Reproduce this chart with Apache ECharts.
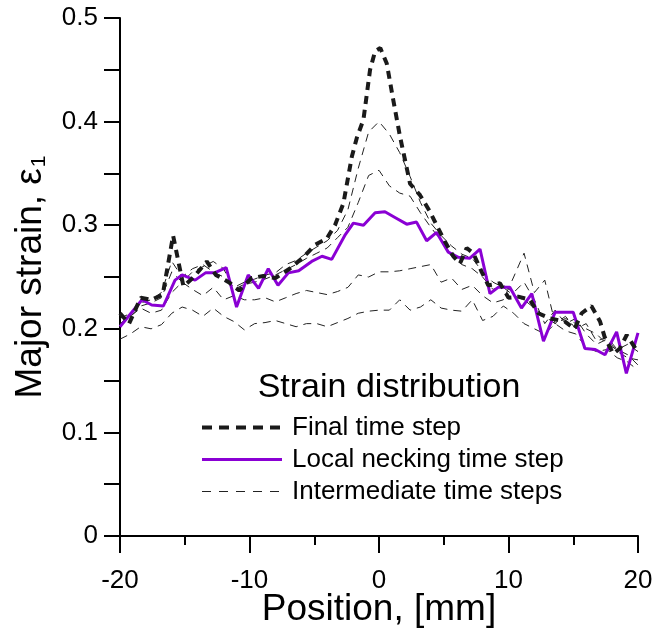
<!DOCTYPE html>
<html>
<head>
<meta charset="utf-8">
<script src="https://cdn.jsdelivr.net/npm/echarts@6/dist/echarts.min.js"></script>
<style>html,body{margin:0;padding:0;background:#fff;}#c{width:652px;height:632px;}</style>
</head>
<body>
<div id="c"></div>
<script>
// Final time step (x, y)
const finalX = [-20,-19.3,-18.4,-17.6,-16.7,-15.9,-15.1,-14.3,-13.3,-12.6,-11.6,-10.8,-9.83,-8.93,-8.0,-6.9,-5.85,-4.94,-4.04,-3.4,-2.75,-2.1,-1.72,-1.2,-0.69,-0.3,0.1,0.6,1.1,1.6,2.4,3.17,3.94,4.45,5.1,5.74,6.25,6.77,7.28,7.93,8.44,9.34,10.0,10.75,11.66,12.3,13.2,14.36,15.1,15.65,16.4,17.07,17.45,18.1,18.6,19.13,19.8,20];
const finalY = [0.215,0.205,0.230,0.228,0.233,0.290,0.241,0.250,0.265,0.252,0.245,0.237,0.249,0.251,0.249,0.258,0.269,0.281,0.287,0.300,0.321,0.366,0.384,0.402,0.450,0.468,0.471,0.456,0.421,0.387,0.340,0.329,0.313,0.300,0.284,0.270,0.263,0.278,0.273,0.255,0.242,0.244,0.230,0.231,0.228,0.215,0.210,0.207,0.200,0.215,0.222,0.207,0.191,0.176,0.181,0.194,0.181,0.180];

// Local necking time step (x, y)
const neckX = [-20,-18.3,-17.55,-16.65,-15.75,-15.2,-14.2,-13.4,-12.7,-11.8,-11.0,-10.1,-9.3,-8.55,-7.8,-7.0,-6.2,-5.2,-4.4,-3.65,-2.6,-1.98,-1.2,-0.3,0.46,1.3,2.14,2.9,3.68,4.45,5.35,6.13,7.0,7.8,8.57,9.2,10.1,11.0,11.8,12.7,13.6,14.3,15.0,15.9,16.7,17.45,18.35,19.1,20.0];
const neckY = [0.202,0.228,0.223,0.222,0.247,0.252,0.247,0.254,0.254,0.259,0.221,0.252,0.239,0.258,0.242,0.254,0.256,0.265,0.270,0.267,0.291,0.302,0.300,0.312,0.313,0.307,0.301,0.303,0.285,0.293,0.274,0.269,0.268,0.277,0.234,0.240,0.240,0.220,0.234,0.188,0.216,0.216,0.216,0.181,0.180,0.175,0.197,0.157,0.196];

// Intermediate time steps, shared positions
const interX = [-20,-19.2,-18.4,-17.6,-16.8,-16,-15.2,-14.4,-13.6,-12.8,-12,-11.2,-10.4,-9.6,-8.8,-8,-7.2,-6.4,-5.6,-4.8,-4,-3.2,-2.4,-1.6,-0.8,0,0.8,1.6,2.4,3.2,4,4.8,5.6,6.4,7.2,8,8.8,9.6,10.4,11.2,12,12.8,13.6,14.4,15.2,16,16.8,17.6,18.4,19.2,20];
const inter1 = [0.210,0.215,0.225,0.228,0.235,0.265,0.250,0.258,0.262,0.255,0.250,0.240,0.245,0.248,0.252,0.254,0.262,0.266,0.273,0.279,0.285,0.295,0.315,0.355,0.390,0.400,0.388,0.370,0.347,0.322,0.302,0.290,0.280,0.272,0.268,0.255,0.245,0.240,0.232,0.228,0.220,0.212,0.205,0.210,0.205,0.200,0.195,0.185,0.180,0.185,0.178];
const inter2 = [0.205,0.212,0.222,0.225,0.230,0.255,0.245,0.255,0.260,0.265,0.258,0.238,0.243,0.245,0.248,0.252,0.257,0.262,0.268,0.273,0.278,0.288,0.298,0.322,0.348,0.353,0.338,0.331,0.328,0.312,0.298,0.285,0.270,0.262,0.258,0.250,0.238,0.242,0.235,0.245,0.228,0.205,0.218,0.205,0.210,0.195,0.185,0.190,0.178,0.172,0.170];
const inter3 = [0.205,0.212,0.220,0.215,0.218,0.235,0.245,0.238,0.232,0.240,0.228,0.232,0.228,0.228,0.230,0.226,0.230,0.234,0.237,0.235,0.233,0.236,0.240,0.252,0.250,0.255,0.255,0.256,0.258,0.260,0.262,0.245,0.249,0.238,0.242,0.232,0.225,0.228,0.250,0.273,0.235,0.247,0.205,0.212,0.200,0.205,0.188,0.192,0.180,0.175,0.165];
const inter4 = [0.190,0.195,0.202,0.200,0.204,0.215,0.221,0.218,0.212,0.220,0.212,0.207,0.199,0.205,0.206,0.208,0.205,0.202,0.205,0.205,0.202,0.206,0.210,0.215,0.217,0.218,0.218,0.228,0.218,0.221,0.228,0.220,0.218,0.217,0.228,0.208,0.212,0.222,0.215,0.205,0.200,0.195,0.205,0.198,0.195,0.182,0.178,0.180,0.172,0.168,0.160];

const seriesNames = ['Final time step', 'Local necking time step', 'Intermediate time steps'];
const legendTitle = 'Strain distribution';

const zip = (xs, ys) => xs.map((x, i) => [x, ys[i]]);
const FONT = 'Liberation Sans, Arial, sans-serif';
const PURPLE = '#8a00d4';

const interSeries = [inter1, inter2, inter3, inter4].map(arr => ({
  name: seriesNames[2], type: 'line', symbol: 'none', data: zip(interX, arr),
  lineStyle: { color: '#222', width: 1, type: [8, 6] }, itemStyle: { color: '#222' },
  z: 2
}));

const chart = echarts.init(document.getElementById('c'), null, { renderer: 'canvas' });
chart.setOption({
  animation: false,
  backgroundColor: '#fff',
  grid: { left: 120, right: 14, top: 18, bottom: 96, containLabel: false, outerBoundsMode: 'none' },
  title: {
    text: legendTitle, left: 384, top: 366, textAlign: 'center',
    textStyle: { fontFamily: FONT, fontSize: 34, fontWeight: 'normal', color: '#000' }
  },
  legend: {
    orient: 'vertical', left: 195, top: 409,
    itemWidth: 80, itemHeight: 14, itemGap: 5,
    itemStyle: { color: 'rgba(0,0,0,0)', borderColor: 'rgba(0,0,0,0)', borderWidth: 0 },
    data: [
      { name: seriesNames[0], lineStyle: { color: '#1a1a1a', width: 4, type: [10, 7] } },
      { name: seriesNames[1], lineStyle: { color: PURPLE, width: 3, type: 'solid' } },
      { name: seriesNames[2], lineStyle: { color: '#222', width: 1, type: [9, 8] } }
    ],
    textStyle: { fontFamily: FONT, fontSize: 26, lineHeight: 27, color: '#000', padding: [0, 0, 0, 5] }
  },
  xAxis: {
    type: 'value', min: -20, max: 20, interval: 10,
    name: 'Position, [mm]', nameLocation: 'middle', nameGap: 55, nameMoveOverlap: false,
    nameTextStyle: { fontFamily: FONT, fontSize: 37, color: '#000' },
    axisLine: { onZero: false, lineStyle: { color: '#000', width: 2 } },
    axisTick: { length: 17, lineStyle: { color: '#000', width: 2 } },
    minorTick: { show: true, splitNumber: 2, length: 9, lineStyle: { color: '#000', width: 2 } },
    axisLabel: { fontFamily: FONT, fontSize: 26, color: '#000', margin: 32 },
    splitLine: { show: false }
  },
  yAxis: {
    type: 'value', min: 0, max: 0.5, interval: 0.1,
    name: '{a|Major strain, ε}{s|1}', nameLocation: 'middle', nameGap: 70, nameMoveOverlap: false,
    nameTextStyle: {
      fontFamily: FONT, fontSize: 37, color: '#000',
      rich: {
        a: { fontFamily: FONT, fontSize: 37, color: '#000' },
        s: { fontFamily: FONT, fontSize: 21, color: '#000', padding: [18, 0, 0, 1] }
      }
    },
    axisLine: { onZero: false, lineStyle: { color: '#000', width: 2 } },
    axisTick: { length: 16, lineStyle: { color: '#000', width: 2 } },
    minorTick: { show: true, splitNumber: 2, length: 16, lineStyle: { color: '#000', width: 2 } },
    axisLabel: {
      fontFamily: FONT, fontSize: 26, color: '#000', margin: 22,
      formatter: v => (Math.abs(v) < 1e-9 ? '0' : (+v.toFixed(2)).toString())
    },
    splitLine: { show: false }
  },
  series: [
    ...interSeries,
    {
      name: seriesNames[1], type: 'line', symbol: 'none', data: zip(neckX, neckY),
      lineStyle: { color: PURPLE, width: 3 }, itemStyle: { color: PURPLE }, z: 3
    },
    {
      name: seriesNames[0], type: 'line', symbol: 'none', data: zip(finalX, finalY),
      lineStyle: { color: '#1a1a1a', width: 4, type: [8, 6] }, itemStyle: { color: '#1a1a1a' }, z: 4
    }
  ]
});
</script>
</body>
</html>
